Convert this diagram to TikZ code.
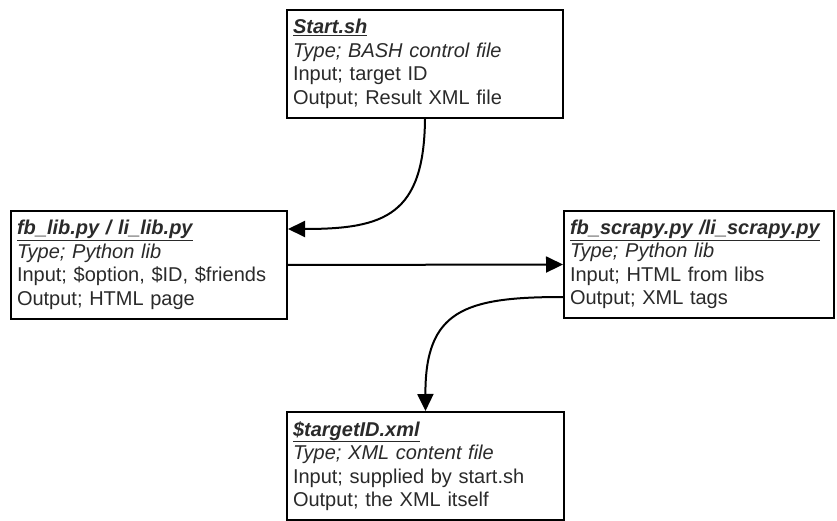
\documentclass[tikz,border=0pt]{standalone}
\usepackage{fontspec}
\setmainfont{Liberation Sans}
\usetikzlibrary{arrows.meta}
\definecolor{txt}{HTML}{2A2A2A}
\tikzset{
  box/.style={draw=black, line width=2pt, fill=white, rectangle, anchor=north west,
    inner xsep=6pt, inner ysep=2pt, align=left, text=txt,
    font=\fontsize{20}{23.5}\selectfont},
  conn/.style={line width=2pt, draw=black, -{Triangle[length=17pt,width=16pt]}}
}
\newcommand{\ttl}[1]{\textbf{\textit{\underline{#1}}}}
\begin{document}
\begin{tikzpicture}[x=1pt,y=-1pt]
\useasboundingbox (0,0) rectangle (837,521);
\node[box, minimum width=276pt, minimum height=108pt, text width=264pt] (start) at (286,9)
  {\ttl{Start.sh}\\ \textit{Type; BASH control file}\\ Input; target ID\\ Output; Result XML file};
\node[box, minimum width=276pt, minimum height=108pt, text width=264pt] (fb) at (10,210)
  {\ttl{fb\_lib.py / li\_lib.py}\\ \textit{Type; Python lib}\\ Input; \$option, \$ID, \$friends\\ Output; HTML page};
\node[box, minimum width=270pt, minimum height=107pt, text width=258pt] (scr) at (563,210)
  {\ttl{fb\_scrapy.py /li\_scrapy.py}\\ \textit{Type; Python lib}\\ Input; HTML from libs\\ Output; XML tags};
\node[box, minimum width=277pt, minimum height=108pt, text width=265pt] (xml) at (286,411)
  {\ttl{\$targetID.xml}\\ \textit{Type; XML content file}\\ Input; supplied by start.sh\\ Output; the XML itself};
\draw[conn] (start.south) .. controls (424,215) and (385,229) .. ([yshift=-19pt]fb.north east);
\draw[conn] (fb.east) -- (scr.west);
\draw[conn] ([yshift=-87pt]scr.north west) .. controls (465,297) and (425,310) .. (xml.north);
\end{tikzpicture}
\end{document}
